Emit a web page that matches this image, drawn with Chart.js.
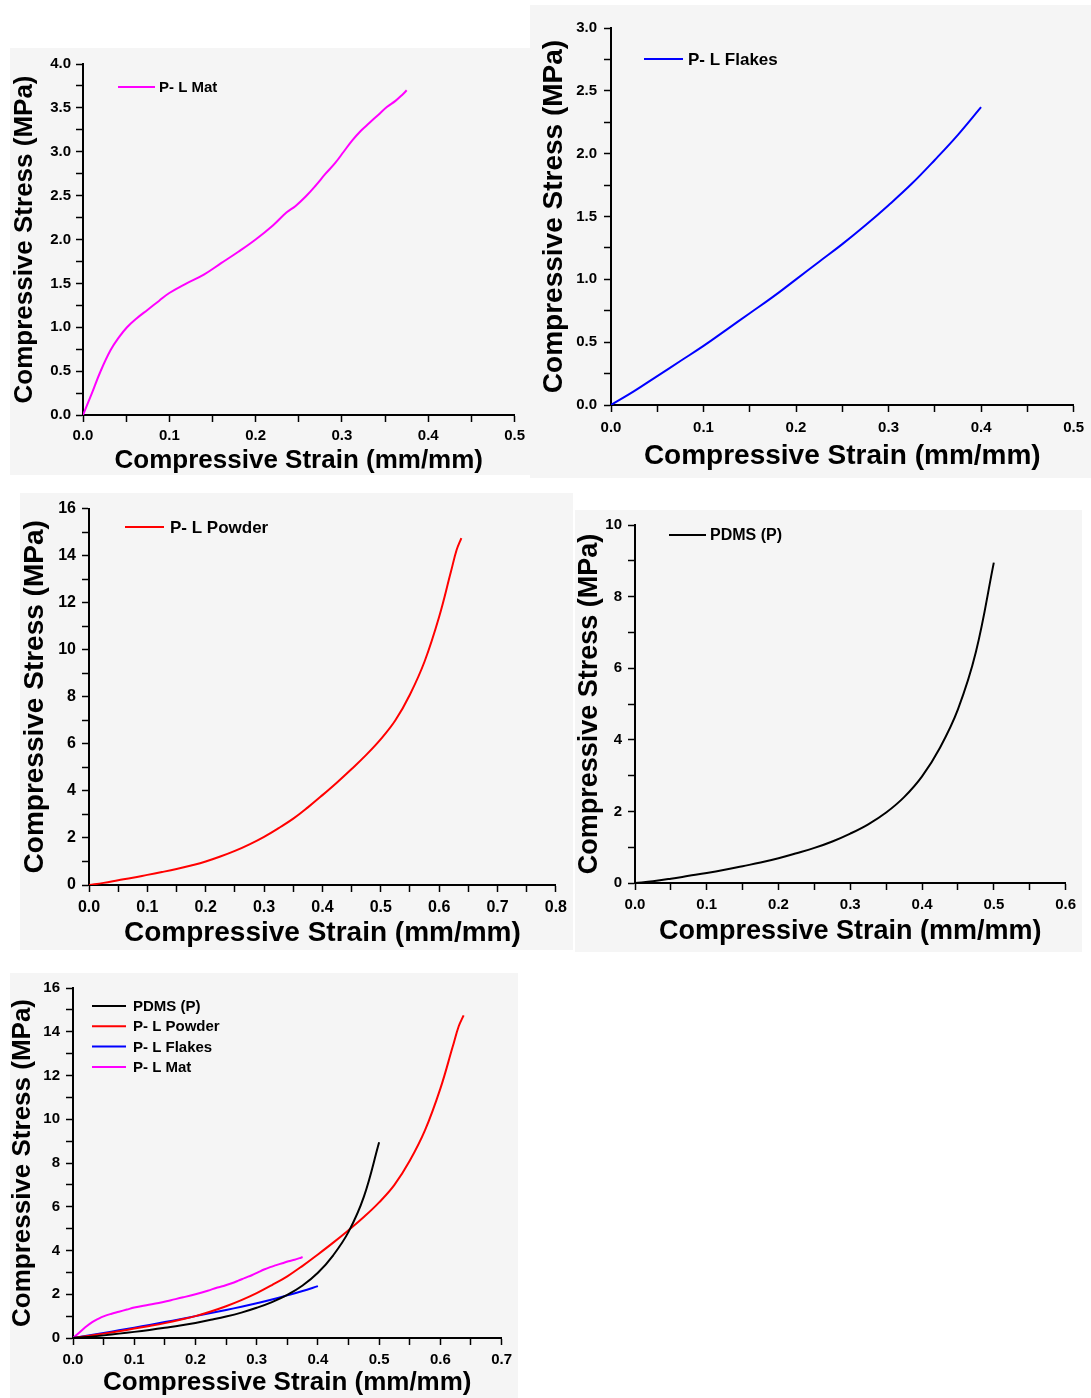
<!DOCTYPE html>
<html>
<head>
<meta charset="utf-8">
<script src="https://cdn.jsdelivr.net/npm/chart.js@4.4.1/dist/chart.umd.min.js"></script>
<style>
  html, body { margin: 0; padding: 0; background: #fff; }
  #page { position: relative; width: 1091px; height: 1398px; overflow: hidden; }
  .panel { position: absolute; background: #f5f5f5; }
  .panel canvas { display: block; }
</style>
</head>
<body>
<div id="page"></div>
<script>
// Compressive strain (mm/mm) vs stress (MPa) for each sample
const pdmsStrain = [0, 0.025, 0.05, 0.075, 0.1, 0.125, 0.15, 0.175, 0.2, 0.225, 0.25, 0.275, 0.3, 0.325, 0.35, 0.375, 0.4, 0.425, 0.45, 0.475, 0.5];
const pdmsStress = [0, 0.05, 0.12, 0.2, 0.28, 0.37, 0.47, 0.57, 0.69, 0.83, 0.98, 1.16, 1.38, 1.64, 1.97, 2.4, 2.98, 3.78, 4.85, 6.45, 8.95];

const powderStrain = [0, 0.025, 0.05, 0.075, 0.1, 0.125, 0.15, 0.175, 0.2, 0.225, 0.25, 0.275, 0.3, 0.325, 0.35, 0.375, 0.4, 0.425, 0.45, 0.475, 0.5, 0.525, 0.55, 0.575, 0.6, 0.62, 0.63, 0.638];
const powderStress = [0, 0.09, 0.2, 0.31, 0.43, 0.55, 0.68, 0.83, 1.0, 1.21, 1.45, 1.73, 2.05, 2.42, 2.82, 3.3, 3.82, 4.36, 4.93, 5.53, 6.2, 7.0, 8.1, 9.5, 11.4, 13.3, 14.25, 14.75];

const flakesStrain = [0, 0.025, 0.05, 0.075, 0.1, 0.125, 0.15, 0.175, 0.2, 0.225, 0.25, 0.275, 0.3, 0.325, 0.35, 0.375, 0.4];
const flakesStress = [0, 0.11, 0.23, 0.35, 0.47, 0.6, 0.73, 0.86, 1.0, 1.14, 1.28, 1.43, 1.59, 1.76, 1.95, 2.15, 2.37];

const matStrain = [0, 0.01, 0.02, 0.032, 0.042, 0.051, 0.062, 0.075, 0.088, 0.1, 0.12, 0.14, 0.16, 0.18, 0.2, 0.22, 0.236, 0.246, 0.258, 0.27, 0.281, 0.292, 0.302, 0.312, 0.322, 0.332, 0.342, 0.352, 0.362, 0.37, 0.375];
const matStress = [0, 0.24, 0.49, 0.74, 0.89, 1.0, 1.1, 1.2, 1.3, 1.39, 1.5, 1.6, 1.73, 1.86, 2.0, 2.16, 2.31, 2.38, 2.49, 2.62, 2.75, 2.87, 3.0, 3.13, 3.24, 3.33, 3.42, 3.51, 3.58, 3.65, 3.7];

const sampleLabels = { pdms: 'PDMS (P)', powder: 'P- L Powder', flakes: 'P- L Flakes', mat: 'P- L Mat' };

const series = {
  pdms: { color: '#000000', strain: pdmsStrain, stress: pdmsStress },
  powder: { color: '#ff0000', strain: powderStrain, stress: powderStress },
  flakes: { color: '#0000ff', strain: flakesStrain, stress: flakesStress },
  mat: { color: '#ff00ff', strain: matStrain, stress: matStress }
};

const xTitle = 'Compressive Strain (mm/mm)';
const yTitle = 'Compressive Stress (MPa)';

// page layout: bg = [left, top, width, height], plot = [left, top, right, bottom]
const panels = [
  { bg: [10, 48, 520, 427], plot: [83, 64, 515, 415], xAxis: { max: 0.5, step: 0.05, major: 0.1, dec: 1 }, yAxis: { max: 4, step: 0.25, major: 0.5, dec: 1 },
    show: ['mat'], title: 26, tick: 15, tickPad: 5, yTitleX: 25, xTitleY: 461, legend: { x: 118, y: 87, len: 37, textX: 159, size: 15, row: 20 } },
  { bg: [530, 5, 561, 473], plot: [611, 28, 1076, 405], xAxis: { max: 0.5, step: 0.05, major: 0.1, dec: 1 }, yAxis: { max: 3, step: 0.25, major: 0.5, dec: 1 },
    show: ['flakes'], title: 28, tick: 15, tickPad: 7, yTitleX: 554, xTitleY: 456, legend: { x: 644, y: 59, len: 39, textX: 688, size: 17, row: 20 } },
  { bg: [20, 493, 553, 457], plot: [89, 504, 557, 885], xAxis: { max: 0.8, step: 0.05, major: 0.1, dec: 1 }, yAxis: { max: 16, step: 1, major: 2, dec: 0 },
    show: ['powder'], title: 28, tick: 16, tickPad: 6, yTitleX: 35, xTitleY: 933, legend: { x: 125, y: 527, len: 39, textX: 170, size: 17, row: 20 } },
  { bg: [575, 510, 507, 442], plot: [635, 520, 1066, 883], xAxis: { max: 0.6, step: 0.05, major: 0.1, dec: 1 }, yAxis: { max: 10, step: 1, major: 2, dec: 0 },
    show: ['pdms'], title: 27, tick: 15, tickPad: 6, yTitleX: 590, xTitleY: 932, legend: { x: 669, y: 535, len: 37, textX: 710, size: 16, row: 20 } },
  { bg: [10, 973, 508, 425], plot: [73, 988, 505, 1338], xAxis: { max: 0.7, step: 0.05, major: 0.1, dec: 1 }, yAxis: { max: 16, step: 1, major: 2, dec: 0 },
    show: ['pdms', 'powder', 'flakes', 'mat'], title: 26, tick: 15, tickPad: 6, yTitleX: 23, xTitleY: 1383, legend: { x: 92, y: 1006, len: 34, textX: 133, size: 15, row: 20.3 } }
];

Chart.defaults.font.family = '"Liberation Sans", Arial, Helvetica, sans-serif';
Chart.defaults.font.weight = 'bold';
Chart.defaults.color = '#000';

// legend drawn inside the plot, line sample followed by the label
const insetLegend = {
  id: 'insetLegend',
  afterDraw(chart, args, opts) {
    const ctx = chart.ctx;
    ctx.save();
    ctx.font = `bold ${opts.size}px ${Chart.defaults.font.family}`;
    ctx.textBaseline = 'middle';
    ctx.fillStyle = '#000';
    chart.data.datasets.forEach((ds, i) => {
      const y = opts.y + i * opts.row;
      ctx.strokeStyle = ds.borderColor;
      ctx.lineWidth = 2;
      ctx.beginPath();
      ctx.moveTo(opts.x, y);
      ctx.lineTo(opts.x + opts.len, y);
      ctx.stroke();
      ctx.fillText(ds.label, opts.textX, y + 1);
    });
    ctx.restore();
  }
};

function majorOnly(major, dec) {
  return (v) => Math.abs(v / major - Math.round(v / major)) < 1e-6 ? Number(v).toFixed(dec) : '';
}

function axisStyle(axis, p) {
  return {
    type: 'linear',
    min: 0,
    max: axis.max,
    grid: { drawOnChartArea: false, drawTicks: true, tickLength: 7, tickWidth: 1.5, tickColor: '#000', color: '#000' },
    border: { display: true, color: '#000', width: 2 },
    ticks: { stepSize: axis.step, autoSkip: false, maxRotation: 0, padding: p.tickPad, color: '#000',
      font: { size: p.tick, weight: 'bold' }, callback: majorOnly(axis.major, axis.dec) }
  };
}

const page = document.getElementById('page');

panels.forEach((p) => {
  const [left, top, width, height] = p.bg;
  const [pl, pt, pr, pb] = p.plot;
  const box = document.createElement('div');
  box.className = 'panel';
  Object.assign(box.style, { left: left + 'px', top: top + 'px', width: width + 'px', height: height + 'px' });
  const canvas = document.createElement('canvas');
  box.appendChild(canvas);
  page.appendChild(box);

  const half = p.title * 0.6;
  const x = axisStyle(p.xAxis, p);
  x.title = { display: true, text: xTitle, color: '#000', font: { size: p.title, weight: 'bold' },
    padding: { top: 0, bottom: (top + height - p.xTitleY) - half } };
  x.afterFit = (scale) => { scale.height = top + height - pb; };

  const y = axisStyle(p.yAxis, p);
  y.title = { display: true, text: yTitle, color: '#000', font: { size: p.title, weight: 'bold' },
    padding: { top: (p.yTitleX - left) - half, bottom: 0 } };
  y.afterFit = (scale) => { scale.width = pl - left; };

  new Chart(canvas, {
    type: 'line',
    data: {
      datasets: p.show.map((key) => ({
        label: sampleLabels[key],
        data: series[key].strain.map((s, i) => ({ x: s, y: series[key].stress[i] })),
        borderColor: series[key].color,
        borderWidth: 2,
        pointRadius: 0,
        tension: 0.4,
        fill: false
      }))
    },
    options: {
      responsive: true,
      maintainAspectRatio: false,
      animation: false,
      layout: { padding: { left: 0, bottom: 0, top: pt - top, right: left + width - pr } },
      plugins: {
        legend: { display: false },
        tooltip: { enabled: false },
        insetLegend: { x: p.legend.x - left, y: p.legend.y - top, len: p.legend.len, textX: p.legend.textX - left, size: p.legend.size, row: p.legend.row }
      },
      scales: { x, y }
    },
    plugins: [insetLegend]
  });
});
</script>
</body>
</html>
